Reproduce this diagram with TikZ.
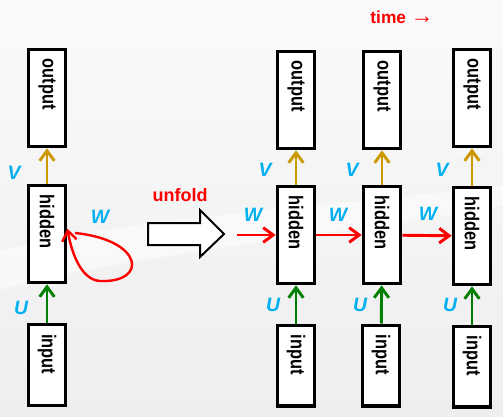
\documentclass[tikz,border=0pt]{standalone}
\usepackage{fontspec}
\setmainfont{Liberation Sans}
\newfontfamily\cellfont[FakeStretch=0.82]{Liberation Sans}
\usetikzlibrary{arrows.meta,calc}
\definecolor{wgtblue}{RGB}{0,176,240}
\definecolor{vgold}{RGB}{204,153,0}
\definecolor{ugreen}{RGB}{0,128,0}
\definecolor{wred}{RGB}{255,0,0}
\definecolor{bggrey}{RGB}{238,238,240}

\begin{document}
\begin{tikzpicture}[x=0.75pt,y=-0.75pt,
  every node/.style={font=\bfseries},
  cell/.style={draw,line width=2.5pt,fill=white,rotate=-90,minimum height=28pt,
               inner xsep=7pt,inner ysep=0pt,align=left,
               font=\cellfont\bfseries\fontsize{15}{15}\selectfont},
  tall/.style={cell,text width=59pt},
  short/.style={cell,text width=46.5pt},
  wt/.style={text=wgtblue,font=\bfseries\itshape\fontsize{14.5}{14.5}\selectfont},
  ar/.style={-{Straight Barb[length=7.5pt,width=11pt]},line width=2.2pt}]
\shade[top color=gray!4,bottom color=bggrey] (0,0) rectangle (503,417);
\fill[white,opacity=0.5] (0,250) .. controls (150,215) and (350,205) .. (503,185)
  -- (503,205) .. controls (350,235) and (150,250) .. (0,290) -- cycle;
\useasboundingbox (0,0) rectangle (503,417);
% folded net
\node[tall] (o0) at (47,98) {output};
\node[tall] (h0) at (47,234) {hidden};
\node[short] (i0) at (47,365) {input};
\draw[ar,vgold] (h0) -- (o0);
\draw[ar,ugreen] (i0) -- (h0);
\coordinate (lp0) at (75,233);
\draw[ar,wred,line width=1.8pt] (lp0) .. controls (144,240) and (148,283) .. (100,281)
  .. controls (82,280) and (72,255) .. ([yshift=4pt]h0.north);
\node[wt] (v0) at (14,173) {V};
\node[wt] (u0) at (21,308) {U};
\node[wt] (w0) at (100,217) {W};
% unfold
\node[text=wred,font=\bfseries\fontsize{13.5}{13.5}\selectfont] (unf) at (180,195) {unfold};
\draw[line width=1.5pt,fill=white] (148,223) -- (200,223) -- (200,210) -- (224,234)
  -- (200,257) -- (200,245) -- (148,245) -- cycle;
% unfolded net
\node[tall] (o1) at (296,100) {output};
\node[tall] (h1) at (296,235) {hidden};
\node[short] (i1) at (296,365.5) {input};
\node[tall] (o2) at (382,100) {output};
\node[tall] (h2) at (382,235) {hidden};
\node[short] (i2) at (381,365.5) {input};
\node[tall] (o3) at (472,98) {output};
\node[tall] (h3) at (472,236) {hidden};
\node[short] (i3) at (472,366.5) {input};
\coordinate (win) at (237,235);
\draw[ar,vgold] (h1) -- (o1); \draw[ar,vgold] (h2) -- (o2); \draw[ar,vgold] (h3) -- (o3);
\draw[ar,ugreen] (i1) -- (h1); \draw[ar,ugreen] (i2) -- (h2); \draw[ar,ugreen] (i3) -- (h3);
\draw[ar,wred] (win) -- (h1); \draw[ar,wred] (h1) -- (h2); \draw[ar,wred] (h2) -- (h3);
\node[wt] (v1) at (265,170) {V};
\node[wt] (v2) at (352,170) {V};
\node[wt] (v3) at (442,170) {V};
\node[wt] (w1) at (253,215) {W};
\node[wt] (w2) at (338,215) {W};
\node[wt] (w3) at (428,214) {W};
\node[wt] (u1) at (273,305) {U};
\node[wt] (u2) at (360,305) {U};
\node[wt] (u3) at (450,305) {U};
\node[text=wred,font=\bfseries\fontsize{13}{13}\selectfont] (time) at (402,17)
  {time {\mdseries\fontsize{17}{17}\selectfont →}};
\end{tikzpicture}
\end{document}
